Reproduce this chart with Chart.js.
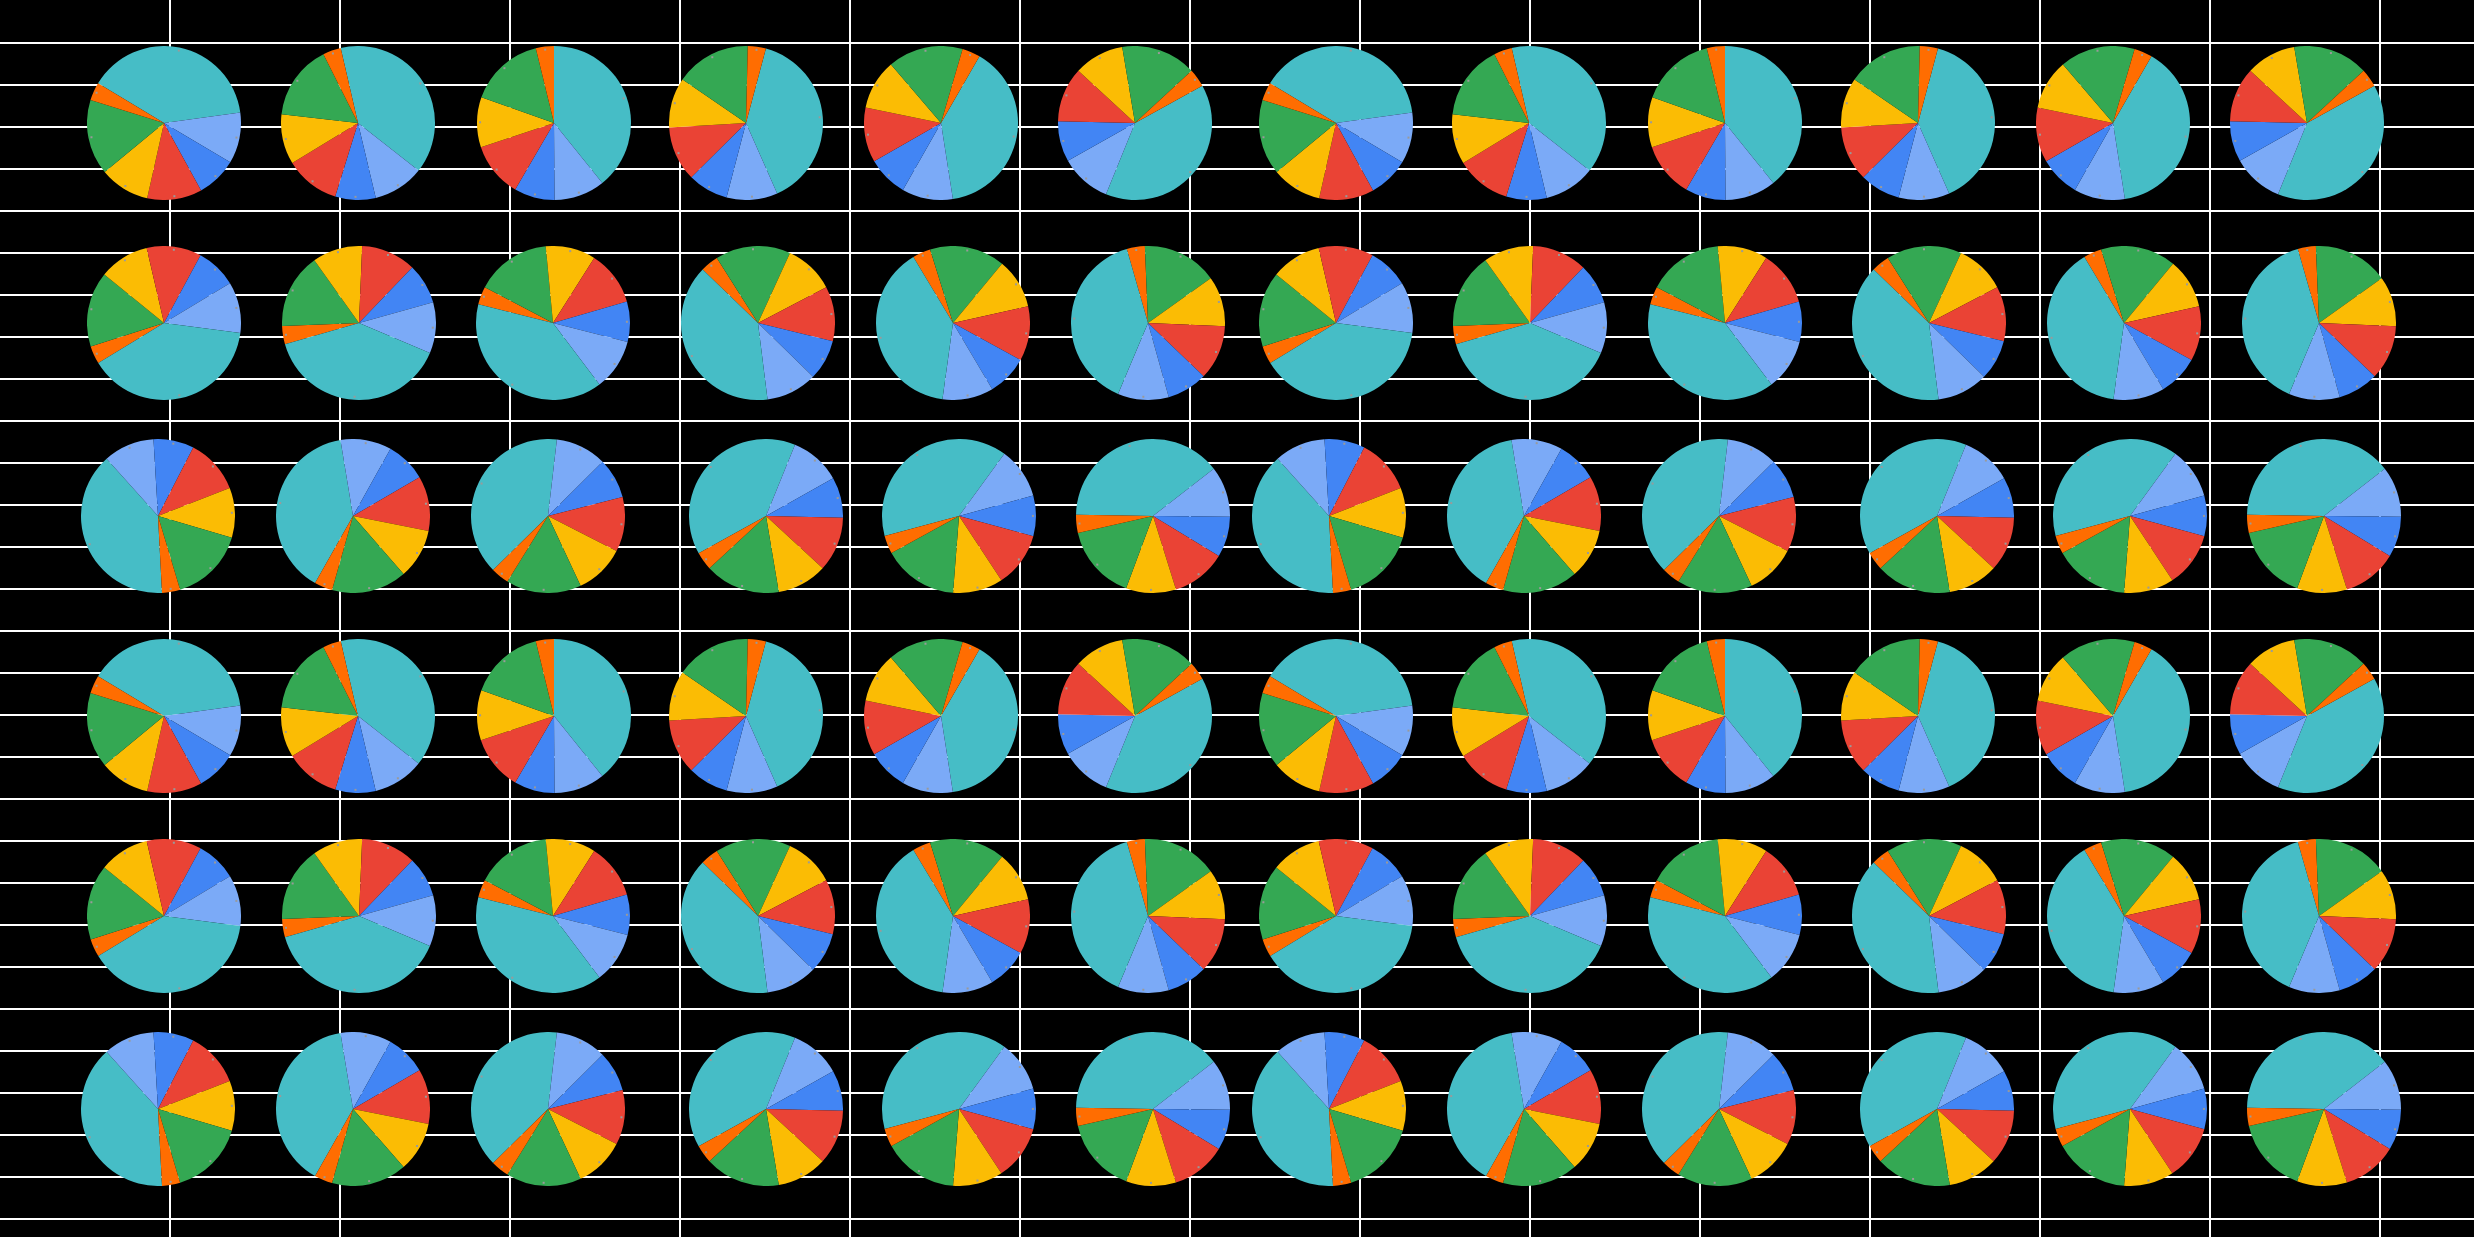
<!DOCTYPE html>
<html>
<head>
<meta charset="utf-8">
<script src="https://cdn.jsdelivr.net/npm/chart.js@4.4.1/dist/chart.umd.min.js"></script>
<style>
  html, body { margin: 0; padding: 0; background: #000; overflow: hidden; }
  #wrap { position: relative; width: 2474px; height: 1237px; background: #000; }
  #grid { position: absolute; left: 0; top: 0; }
  .pie { position: absolute; }
</style>
</head>
<body>
<div id="wrap"><canvas id="grid" width="2474" height="1237"></canvas></div>
<script>
// ---------------- DATA ----------------
const categories = ['Slice 1', 'Slice 2', 'Slice 3', 'Slice 4', 'Slice 5', 'Slice 6', 'Slice 7'];
const sliceValues = [39.2, 10.7, 8.5, 11.5, 10.5, 15.8, 3.8];
// start angle (degrees, clockwise from 12 o'clock) of the first slice, per pie column
const row1Rotation = [-59, -13, 0, 15, 30, 61];          // clockwise
const row2Rotation = [238.6, 254, 284, 314, 329, 344];    // counter-clockwise
const row3Rotation = [177, 209.5, 225.5, 241, 255, 271];  // clockwise
const xGridTicks = [1, 2, 3, 4, 5, 6, 7, 8, 9, 10, 11, 12, 13, 14];
const yGridTicks = [0, 1, 2, 3, 4, 5, 6, 7, 8, 9, 10, 11, 12, 13, 14, 15, 16, 17, 18, 19, 20, 21, 22, 23, 24, 25, 26, 27, 28];

// ---------------- STYLE / LAYOUT ----------------
const sliceColors = ['#46BDC6', '#7BAAF7', '#4285F4', '#EA4335', '#FBBC04', '#34A853', '#FF6D01'];
const W = 2474, H = 1237;
const colPx = 170, rowPx = 42, rowTop = 43;
const R = 77;
const blockCx = [
  [164.1, 357.8, 553.7, 746.3, 941.2, 1135.4],
  [164.1, 358.9, 553.1, 758.0, 952.8, 1147.6],
  [157.7, 353.0, 547.8, 765.9, 959.0, 1153.0]
];
const blockCy = [123.3, 323.3, 516.0];
const blockDx = 1171.4, blockDy = 592.5;

// ---------------- GRID (background chart) ----------------
new Chart(document.getElementById('grid'), {
  type: 'scatter',
  data: { datasets: [{ data: [] }] },
  options: {
    responsive: false, animation: false, events: [],
    layout: { padding: 0 },
    plugins: { legend: { display: false }, tooltip: { enabled: false }, title: { display: false } },
    scales: {
      x: {
        type: 'linear', min: 0, max: W / colPx,
        afterBuildTicks: s => { s.ticks = xGridTicks.map(v => ({ value: v })); },
        ticks: { display: false }, border: { display: false },
        grid: { color: '#ffffff', lineWidth: 2, drawTicks: false }
      },
      y: {
        type: 'linear', reverse: true, min: -rowTop / rowPx, max: (H - rowTop) / rowPx,
        afterBuildTicks: s => { s.ticks = yGridTicks.map(v => ({ value: v })); },
        ticks: { display: false }, border: { display: false },
        grid: { color: '#ffffff', lineWidth: 2, drawTicks: false }
      }
    }
  },
  plugins: [{
    id: 'bg',
    beforeDraw(c) { const ctx = c.ctx; ctx.save(); ctx.fillStyle = '#000'; ctx.fillRect(0, 0, c.width, c.height); ctx.restore(); }
  }]
});

// ---------------- PIES ----------------
const labelMarks = {
  id: 'labelMarks',
  afterDatasetsDraw(chart) {
    const ctx = chart.ctx;
    const arcs = chart.getDatasetMeta(0).data;
    ctx.save();
    ctx.fillStyle = '#9a9a9a';
    arcs.forEach(a => {
      const mid = (a.startAngle + a.endAngle) / 2;
      const rr = a.outerRadius * 0.96;
      const x = a.x + Math.cos(mid) * rr, y = a.y + Math.sin(mid) * rr;
      ctx.fillRect(x - 1, y - 1, 2, 2);
    });
    ctx.restore();
  }
};

const rotations = [row1Rotation, row2Rotation, row3Rotation];
const wrap = document.getElementById('wrap');
for (let br = 0; br < 2; br++) {
  for (let r = 0; r < 3; r++) {
    for (let bc = 0; bc < 2; bc++) {
      for (let c = 0; c < 6; c++) {
        const cx = blockCx[r][c] + bc * blockDx;
        const cy = blockCy[r] + br * blockDy;
        const ccw = (r === 1);
        const vals = ccw ? sliceValues.slice().reverse() : sliceValues.slice();
        const cols = ccw ? sliceColors.slice().reverse() : sliceColors.slice();
        const labs = ccw ? categories.slice().reverse() : categories.slice();
        const cv = document.createElement('canvas');
        cv.className = 'pie';
        cv.width = 2 * R; cv.height = 2 * R;
        cv.style.left = (cx - R) + 'px';
        cv.style.top = (cy - R) + 'px';
        wrap.appendChild(cv);
        new Chart(cv, {
          type: 'pie',
          data: { labels: labs, datasets: [{ data: vals, backgroundColor: cols, borderWidth: 0, hoverOffset: 0 }] },
          options: {
            responsive: false, animation: false, events: [],
            rotation: rotations[r][c],
            layout: { padding: 0 },
            plugins: { legend: { display: false }, tooltip: { enabled: false } }
          },
          plugins: [labelMarks]
        });
      }
    }
  }
}
</script>
</body>
</html>
